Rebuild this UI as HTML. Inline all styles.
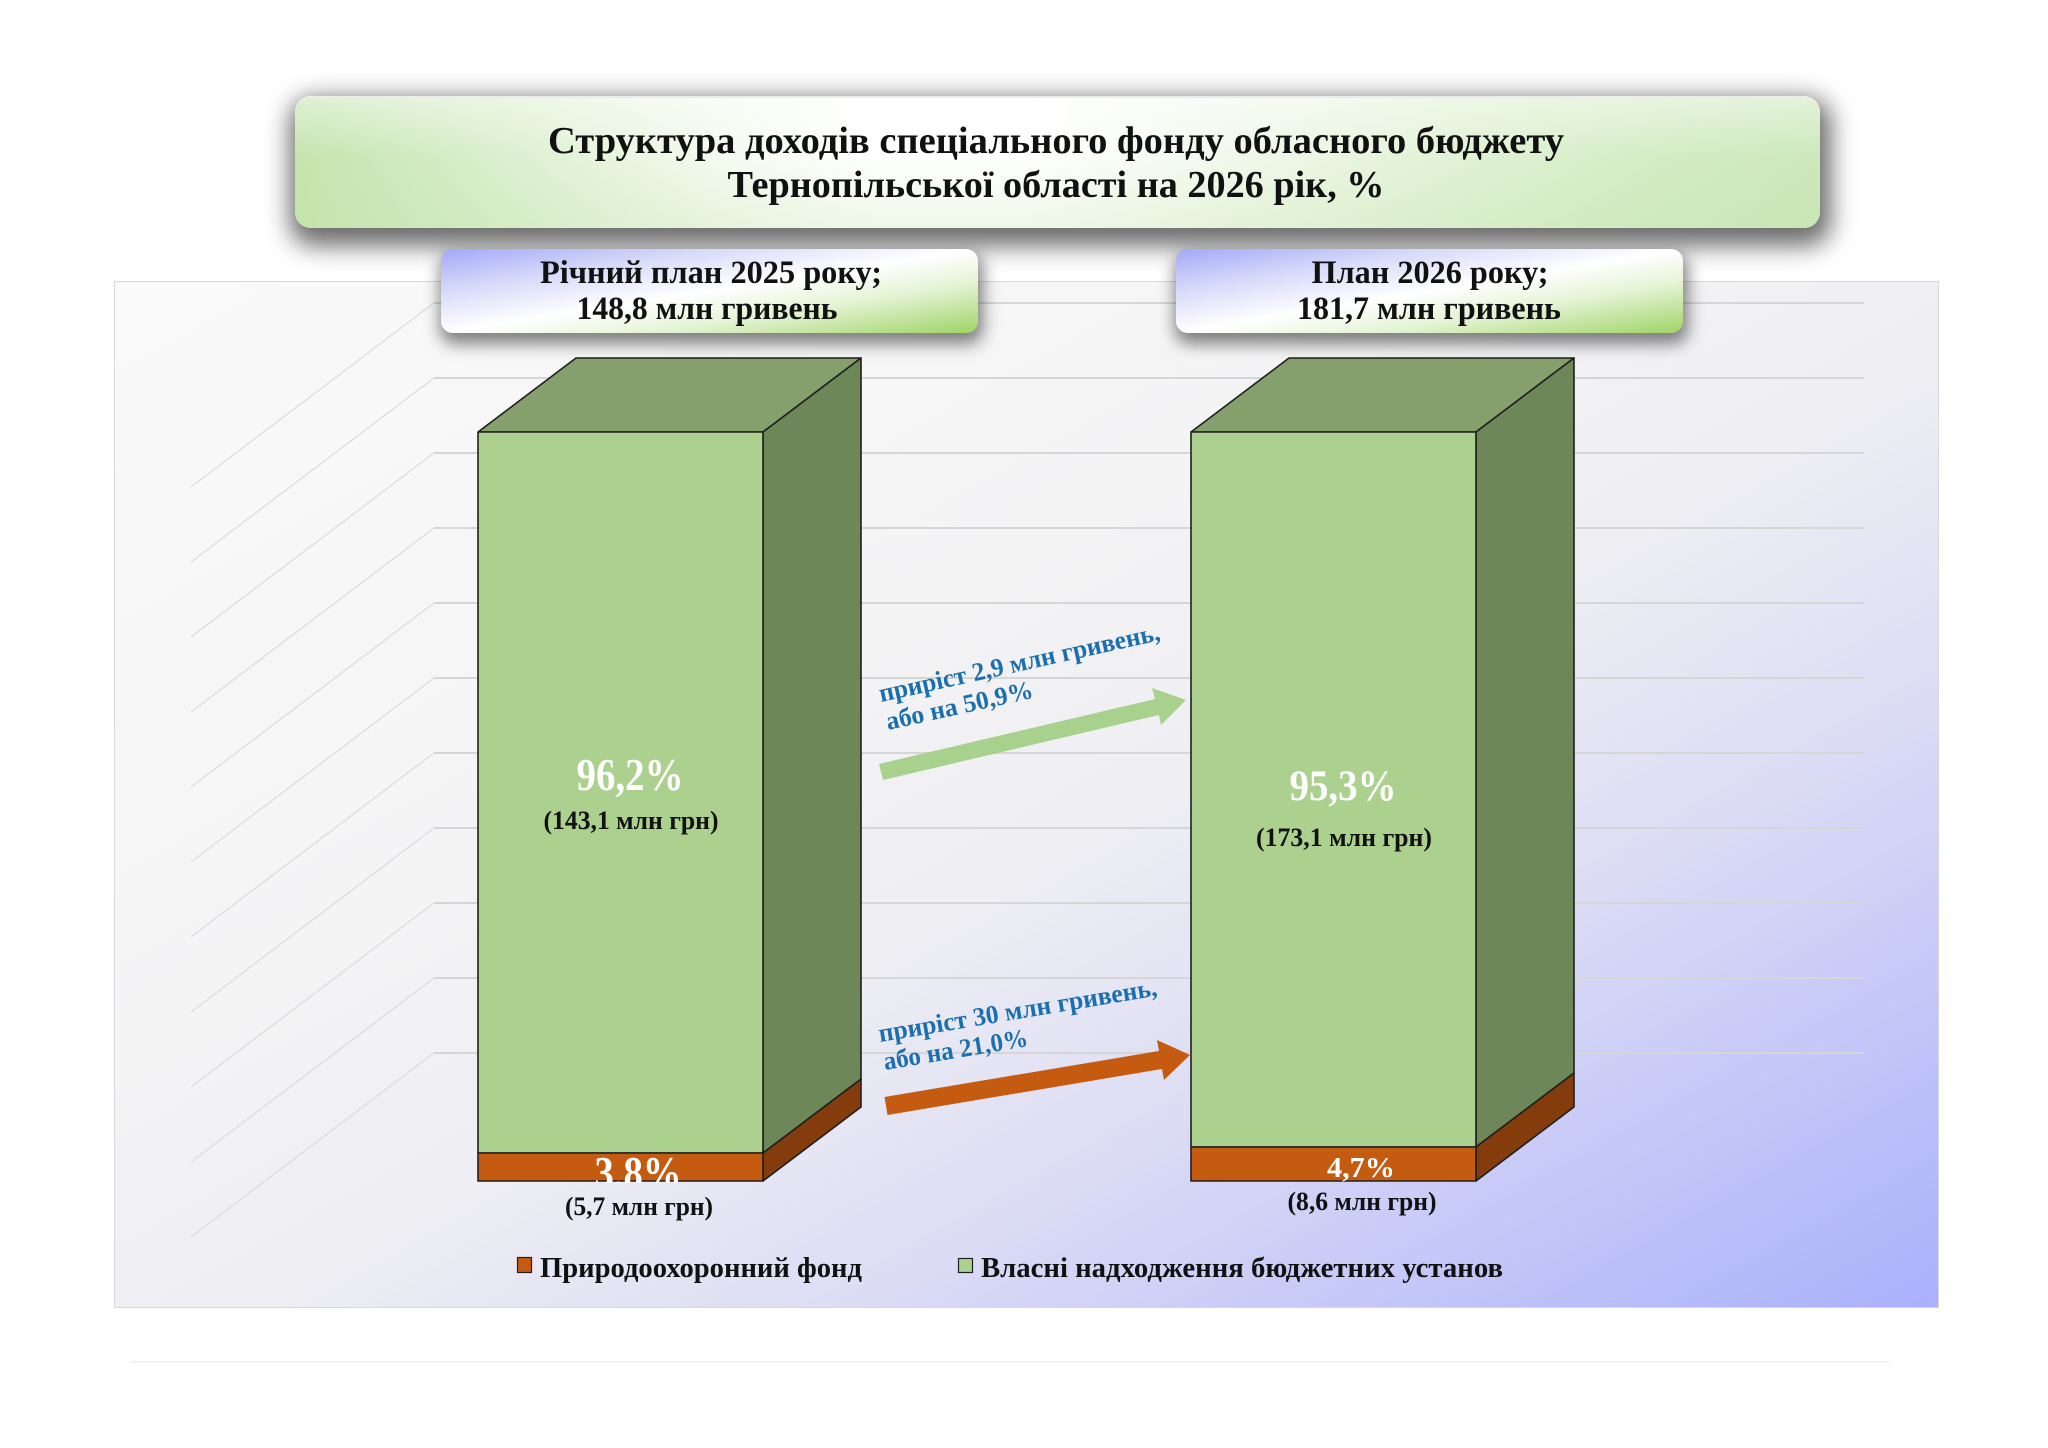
<!DOCTYPE html>
<html>
<head>
<meta charset="utf-8">
<style>
html,body{margin:0;padding:0;background:#ffffff;}
#root{position:relative;width:2048px;height:1448px;overflow:hidden;background:#ffffff;font-family:"Liberation Serif","Noto Serif CJK SC",serif;}
.panel{position:absolute;left:114px;top:281px;width:1823px;height:1025px;border:1px solid #d8d8d8;
background:linear-gradient(to bottom right,#fafafa 0%,#f4f4f5 38%,#eeeef3 54%,#dcdcf5 70%,#c3c6f8 85%,#aab0fb 100%);}
.title{position:absolute;left:295px;top:96px;width:1525px;height:132px;border-radius:16px;
background:linear-gradient(180deg,rgba(255,255,255,0.45) 0%,rgba(255,255,255,0) 45%,rgba(190,225,165,0.25) 100%),
linear-gradient(90deg,#c4e4ad 0%,#d9eecb 12%,#f4faf0 28%,#ffffff 38%,#ffffff 48%,#f3f9ee 60%,#e2f2d7 75%,#d4ecc4 90%,#cde8ba 100%);
box-shadow:3px 10px 24px 8px rgba(40,40,40,0.68);border-top:2px solid #ececec;box-sizing:border-box;}
.sub{position:absolute;top:249px;height:84px;border-radius:12px;
background:linear-gradient(to bottom right,#a2a8f7 0%,#d6d9f9 25%,#ffffff 50%,#e4f3d4 70%,#9fd465 100%);
box-shadow:2px 8px 16px 3px rgba(40,40,40,0.58);}
svg{position:absolute;left:0;top:0;}
</style>
</head>
<body>
<div id="root">
<div class="panel"></div>

<!-- chart -->
<svg width="2048" height="1448" viewBox="0 0 2048 1448">
  <g stroke="#d6d6d6" stroke-width="2" fill="none">
    <line x1="434" y1="303" x2="1864" y2="303"/>
    <line x1="434" y1="378" x2="1864" y2="378"/>
    <line x1="434" y1="453" x2="1864" y2="453"/>
    <line x1="434" y1="528" x2="1864" y2="528"/>
    <line x1="434" y1="603" x2="1864" y2="603"/>
    <line x1="434" y1="678" x2="1864" y2="678"/>
    <line x1="434" y1="753" x2="1864" y2="753"/>
    <line x1="434" y1="828" x2="1864" y2="828"/>
    <line x1="434" y1="903" x2="1864" y2="903"/>
    <line x1="434" y1="978" x2="1864" y2="978"/>
    <line x1="434" y1="1053" x2="1864" y2="1053"/>
  </g>
  <g stroke="#dedede" stroke-width="1.4" fill="none">
    <line x1="434" y1="303" x2="191" y2="487"/>
    <line x1="434" y1="378" x2="191" y2="562"/>
    <line x1="434" y1="453" x2="191" y2="637"/>
    <line x1="434" y1="528" x2="191" y2="712"/>
    <line x1="434" y1="603" x2="191" y2="787"/>
    <line x1="434" y1="678" x2="191" y2="862"/>
    <line x1="434" y1="753" x2="191" y2="937"/>
    <line x1="434" y1="828" x2="191" y2="1012"/>
    <line x1="434" y1="903" x2="191" y2="1087"/>
    <line x1="434" y1="978" x2="191" y2="1162"/>
    <line x1="434" y1="1053" x2="191" y2="1237"/>
  </g>
  <line x1="130" y1="1362" x2="1890" y2="1362" stroke="#f4f4f4" stroke-width="2"/>

  <!-- left bar -->
  <g stroke="#1f1f1f" stroke-width="1.6" stroke-linejoin="round">
    <polygon points="478,432 576,358 861,358 763,432" fill="#86a06d"/>
    <polygon points="763,432 861,358 861,1079 763,1153" fill="#6e8759"/>
    <polygon points="763,1153 861,1079 861,1107 763,1181" fill="#843c0c"/>
    <rect x="478" y="432" width="285" height="721" fill="#acd08d"/>
    <rect x="478" y="1153" width="285" height="28" fill="#c55a11"/>
  </g>
  <!-- right bar -->
  <g stroke="#1f1f1f" stroke-width="1.6" stroke-linejoin="round">
    <polygon points="1191,432 1289,358 1574,358 1476,432" fill="#86a06d"/>
    <polygon points="1476,432 1574,358 1574,1073 1476,1147" fill="#6e8759"/>
    <polygon points="1476,1147 1574,1073 1574,1107 1476,1181" fill="#843c0c"/>
    <rect x="1191" y="432" width="285" height="715" fill="#acd08d"/>
    <rect x="1191" y="1147" width="285" height="34" fill="#c55a11"/>
  </g>

  <!-- arrows -->
  <polygon points="879,764 1155,699 1152,688 1186,700 1161,725 1159,715 883,780" fill="#a9d18e"/>
  <polygon points="884.5,1097 1159,1051 1157,1040 1190,1055 1164,1080 1162,1069 887.5,1115" fill="#c55a11"/>

  <!-- arrow labels -->
  <g font-family="Liberation Serif, serif" font-weight="bold" font-size="26" fill="#1b6fae">
    <text transform="translate(881,702) rotate(-12.5)" textLength="287" lengthAdjust="spacingAndGlyphs">приріст 2,9 млн гривень,</text>
    <text transform="translate(888,730) rotate(-12.5)" textLength="150" lengthAdjust="spacingAndGlyphs">або на 50,9%</text>
    <text transform="translate(880,1042) rotate(-9.5)" textLength="282" lengthAdjust="spacingAndGlyphs">приріст 30 млн гривень,</text>
    <text transform="translate(885,1070) rotate(-9.5)" textLength="146" lengthAdjust="spacingAndGlyphs">або на 21,0%</text>
  </g>

  <!-- value labels -->
  <defs>
    <clipPath id="clip38"><rect x="500" y="1100" width="300" height="83"/></clipPath>
  </defs>
  <g font-family="Liberation Serif, serif" font-weight="bold" text-anchor="middle">
    <text x="630" y="790" font-size="45" fill="#ffffff" textLength="107" lengthAdjust="spacingAndGlyphs">96,2%</text>
    <text x="631" y="829" font-size="26" fill="#111" textLength="175" lengthAdjust="spacingAndGlyphs">(143,1 млн грн)</text>
    <text x="1343" y="800" font-size="43" fill="#ffffff" textLength="107" lengthAdjust="spacingAndGlyphs">95,3%</text>
    <text x="1344" y="846" font-size="26" fill="#111" textLength="176" lengthAdjust="spacingAndGlyphs">(173,1 млн грн)</text>
    <text x="638" y="1188" font-size="46" fill="#ffffff" textLength="87" lengthAdjust="spacingAndGlyphs" clip-path="url(#clip38)">3,8%</text>
    <text x="639" y="1215" font-size="26" fill="#111" textLength="148" lengthAdjust="spacingAndGlyphs">(5,7 млн грн)</text>
    <text x="1361" y="1177" font-size="29" fill="#ffffff" textLength="68" lengthAdjust="spacingAndGlyphs">4,7%</text>
    <text x="1362" y="1210" font-size="26" fill="#111" textLength="149" lengthAdjust="spacingAndGlyphs">(8,6 млн грн)</text>
  </g>

  <!-- legend -->
  <rect x="517.5" y="1257.5" width="14" height="15" fill="#c55a11" stroke="#222" stroke-width="1.2"/>
  <rect x="958.5" y="1258.5" width="14" height="14" fill="#acd08d" stroke="#222" stroke-width="1.2"/>
  <g font-family="Liberation Serif, serif" font-weight="bold" font-size="28" fill="#111">
    <text x="540" y="1277" textLength="322" lengthAdjust="spacingAndGlyphs">Природоохоронний фонд</text>
    <text x="981" y="1277" textLength="522" lengthAdjust="spacingAndGlyphs">Власні надходження бюджетних установ</text>
  </g>
</svg>

<div class="title"></div>
<div class="sub" style="left:441px;width:537px;"></div>
<div class="sub" style="left:1176px;width:507px;"></div>

<svg width="2048" height="1448" viewBox="0 0 2048 1448">
  <g font-family="Liberation Serif, serif" font-weight="bold" fill="#111" text-anchor="middle">
    <text x="1056" y="153" font-size="38" textLength="1016" lengthAdjust="spacingAndGlyphs">Структура доходів спеціального фонду обласного бюджету</text>
    <text x="1056" y="197" font-size="38" textLength="657" lengthAdjust="spacingAndGlyphs">Тернопільської області на 2026 рік, %</text>
    <text x="711" y="283" font-size="33" textLength="342" lengthAdjust="spacingAndGlyphs">Річний план 2025 року;</text>
    <text x="707" y="319" font-size="33" textLength="261" lengthAdjust="spacingAndGlyphs">148,8 млн гривень</text>
    <text x="1430" y="283" font-size="33" textLength="237" lengthAdjust="spacingAndGlyphs">План 2026 року;</text>
    <text x="1429" y="319" font-size="33" textLength="264" lengthAdjust="spacingAndGlyphs">181,7 млн гривень</text>
  </g>
</svg>
</div>
</body>
</html>
